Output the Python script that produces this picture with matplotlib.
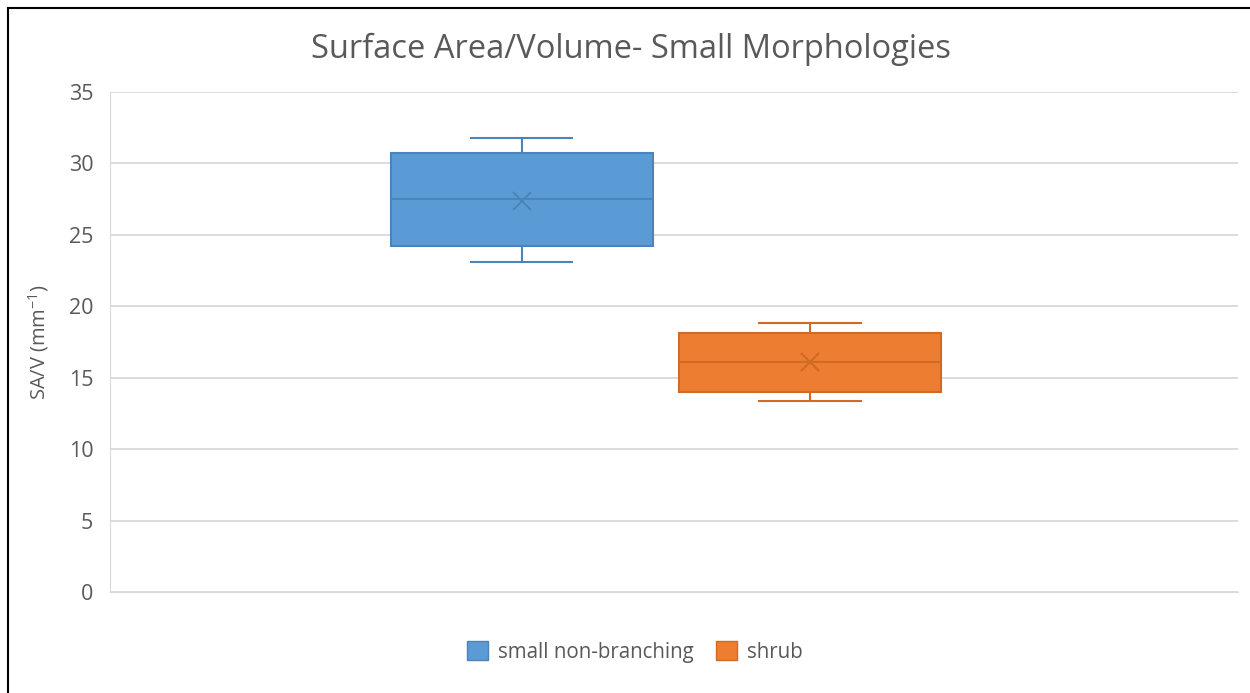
import matplotlib.pyplot as plt
from matplotlib.lines import Line2D
from matplotlib.patches import Patch

plt.rcParams['font.family'] = ['Open Sans', 'DejaVu Sans']
plt.rcParams['mathtext.default'] = 'regular'

# summary values
series = ["small non-branching", "shrub"]
whislo = [23.1, 13.4]
q1 = [24.2, 14.0]
med = [27.5, 16.1]
q3 = [30.7, 18.1]
whishi = [31.8, 18.8]
means = [27.4, 16.1]
yticks = [0, 5, 10, 15, 20, 25, 30, 35]

fills = ["#5b9bd5", "#ed7d31"]
edges = ["#4a84bb", "#d06a25"]

fig = plt.figure(figsize=(12.5, 6.93), dpi=100)
ax = fig.add_axes([110 / 1250, 1 - 592 / 693, 1128 / 1250, 500 / 693])

positions = [0.365, 0.6206]
for i in range(len(series)):
    stats = [dict(whislo=whislo[i], q1=q1[i], med=med[i], q3=q3[i],
                  whishi=whishi[i], mean=means[i], fliers=[])]
    ax.bxp(stats, positions=[positions[i]], widths=0.232, patch_artist=True,
           showmeans=True, manage_ticks=False,
           boxprops=dict(facecolor=fills[i], edgecolor=edges[i], linewidth=1.5),
           medianprops=dict(color=edges[i], linewidth=1.5),
           whiskerprops=dict(color=edges[i], linewidth=1.5),
           capprops=dict(color=edges[i], linewidth=1.5),
           capwidths=0.09,
           meanprops=dict(marker="x", markeredgecolor=edges[i], markersize=13,
                          markeredgewidth=1.5))

ax.set_xlim(0, 1)
ax.set_ylim(0, 35)
ax.set_yticks(yticks)
ax.set_xticks([])
ax.grid(axis="y", color="#d9d9d9", linewidth=1.3)
ax.set_axisbelow(True)
for s in ["top", "right"]:
    ax.spines[s].set_visible(False)
ax.spines["left"].set_color("#d9d9d9")
ax.spines["bottom"].set_color("#d9d9d9")
ax.tick_params(axis="y", length=0, pad=12, labelsize=15.5, labelcolor="#595959")
ax.set_ylabel("SA/V (mm$^{-1}$)", fontsize=14.5, color="#595959", labelpad=13)

fig.text(0.505, 1 - 49 / 693, "Surface Area/Volume- Small Morphologies",
         ha="center", va="center", fontsize=23.5, color="#595959")

handles = [Patch(facecolor=fills[i], edgecolor=edges[i], label=series[i])
           for i in range(len(series))]
fig.legend(handles=handles, loc="center", bbox_to_anchor=(0.508, 1 - 652 / 693),
           ncol=2, frameon=False, fontsize=14.8, labelcolor="#595959",
           handlelength=1.0, handleheight=1.0, columnspacing=1.1, handletextpad=0.5)

# outer frame (left and top edges only)
fig.add_artist(Line2D([7.5 / 1250, 7.5 / 1250], [0, 1 - 7.5 / 693],
                      transform=fig.transFigure, color="black", linewidth=1.5))
fig.add_artist(Line2D([7.5 / 1250, 1], [1 - 7.5 / 693, 1 - 7.5 / 693],
                      transform=fig.transFigure, color="black", linewidth=1.5))

fig.savefig("out.png", dpi=100)
